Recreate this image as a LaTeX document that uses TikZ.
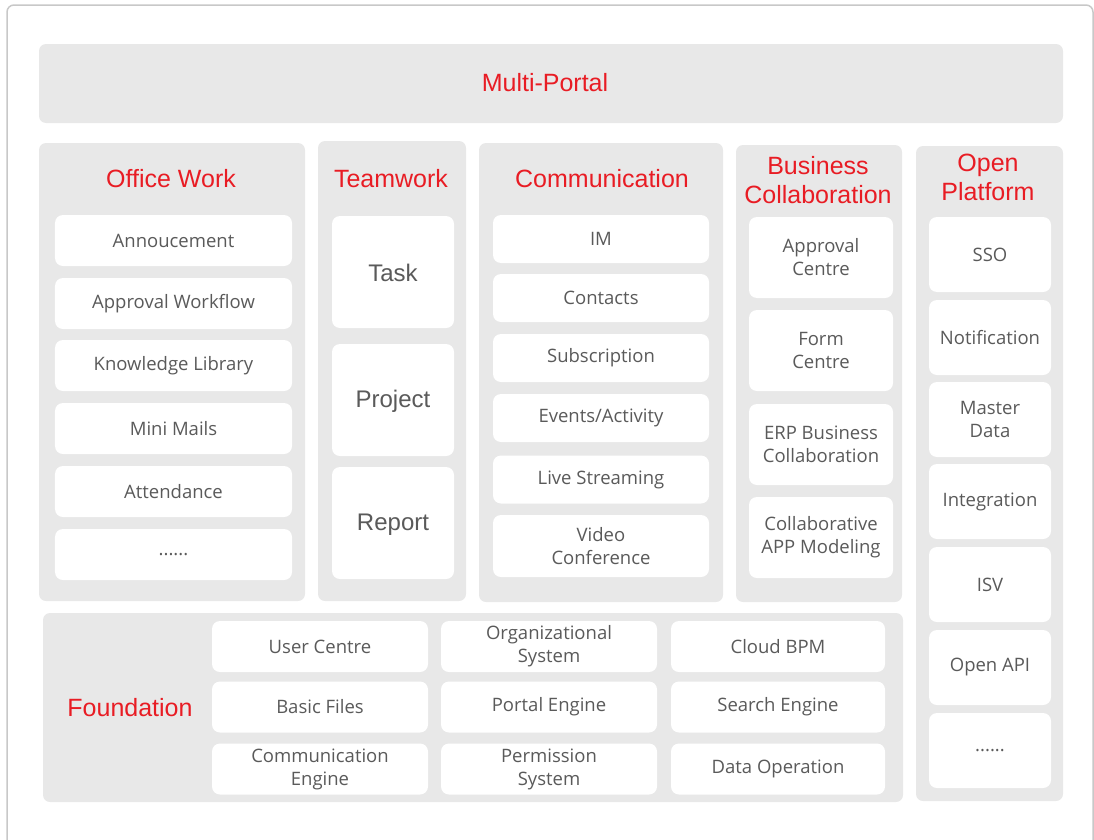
\documentclass[tikz,border=0pt]{standalone}
\usepackage{fontspec}
\setmainfont{Open Sans}
\newfontfamily\arialfont{Liberation Sans}
\usepackage{tikz}
\usetikzlibrary{positioning}

\definecolor{panelgray}{RGB}{232,232,232}
\definecolor{titlered}{RGB}{232,28,36}
\definecolor{textgray}{RGB}{90,90,90}
\definecolor{framegray}{RGB}{200,200,200}

\newcommand\itemfont{\fontsize{18.5bp}{23bp}\selectfont}
\newcommand\bigfont{\arialfont\fontsize{24bp}{28bp}\selectfont}
\newcommand\headfont{\arialfont\fontsize{25bp}{29bp}\selectfont}

\tikzset{
  panel/.style={fill=panelgray, rounded corners=7bp},
  item/.style={fill=white, rounded corners=8bp, inner sep=0pt, align=center, text=textgray, font=\itemfont},
  heading/.style={inner sep=0pt, align=center, text=titlered, font=\headfont},
  owitem/.style={item, minimum width=237bp, minimum height=51bp},
  twitem/.style={item, minimum width=122bp, minimum height=112bp, font=\bigfont},
  cmitem/.style={item, minimum width=216bp, minimum height=48bp},
  bcitem/.style={item, minimum width=144bp, minimum height=81bp},
  opitem/.style={item, minimum width=122bp, minimum height=75bp},
  fditem/.style={item, minimum width=216bp, minimum height=51bp},
}

\begin{document}
\begin{tikzpicture}[x=1bp,y=-1bp,line join=bevel]
  \useasboundingbox (0,0) rectangle (1094,840);
  \pgfsetlinewidth{1.5bp}
%%
  % Frame
  \draw [framegray, rounded corners=7bp] (7,845) -- (7,5) -- (1093,5) -- (1093,845);
  % Panels
  \fill [panel] (39,44) rectangle (1063,123);
  \fill [panel] (39,143) rectangle (305,601);
  \fill [panel] (318,141) rectangle (466,601);
  \fill [panel] (479,143) rectangle (723,602);
  \fill [panel] (736,145) rectangle (902,602);
  \fill [panel] (916,146) rectangle (1063,801);
  \fill [panel] (43,613) rectangle (903,802);

  % Node: portal
  \node [heading] (portal) at (545,83) {Multi-Portal};

  % Node: office
  \node [heading] (office) at (171,179) {Office Work};
  \node [owitem] (annc) at (173.5,240.5) {Annoucement};
  \node [owitem] (apwf) at (173.5,303.5) {Approval Workflow};
  \node [owitem] (klib) at (173.5,365.5) {Knowledge Library};
  \node [owitem] (mail) at (173.5,428.5) {Mini Mails};
  \node [owitem] (attd) at (173.5,491.5) {Attendance};
  \node [owitem] (owmore) at (173.5,554.5) {......};

  % Node: team
  \node [heading] (team) at (391,179) {Teamwork};
  \node [twitem, text height=20bp] (task) at (393,272) {Task};
  \node [twitem, text height=20bp] (proj) at (393,400) {Project};
  \node [twitem, text height=20bp] (rprt) at (393,523) {Report};

  % Node: comm
  \node [heading] (comm) at (602,179) {Communication};
  \node [cmitem] (im) at (601,239) {IM};
  \node [cmitem] (cont) at (601,298) {Contacts};
  \node [cmitem] (subs) at (601,358) {Subscription};
  \node [cmitem] (evnt) at (601,418) {Events/Activity};
  \node [cmitem] (live) at (601,479.5) {Live Streaming};
  \node [cmitem, minimum height=62bp] (video) at (601,546) {Video\\Conference};

  % Node: busi
  \node [heading] (busi) at (818,180) {Business\\Collaboration};
  \node [bcitem] (apcn) at (821,257.5) {Approval\\Centre};
  \node [bcitem] (form) at (821,350.5) {Form\\Centre};
  \node [bcitem] (erp) at (821,444.5) {ERP Business\\Collaboration};
  \node [bcitem] (appm) at (821,537.5) {Collaborative\\APP Modeling};

  % Node: open
  \node [heading] (open) at (988,177) {Open\\Platform};
  \node [opitem] (sso) at (990,254.5) {SSO};
  \node [opitem] (noti) at (990,337.5) {Notification};
  \node [opitem] (mdat) at (990,419.5) {Master\\Data};
  \node [opitem] (intg) at (990,501.5) {Integration};
  \node [opitem] (isv) at (990,584.5) {ISV};
  \node [opitem] (oapi) at (990,667.5) {Open API};
  \node [opitem] (opmore) at (990,750.5) {......};

  % Node: found
  \node [heading] (found) at (130,708) {Foundation};
  \node [fditem] (user) at (320,646.5) {User Centre};
  \node [fditem] (file) at (320,707) {Basic Files};
  \node [fditem] (cmen) at (320,769) {Communication\\Engine};
  \node [fditem] (orgs) at (549,646.5) {Organizational\\System};
  \node [fditem] (port) at (549,707) {Portal Engine};
  \node [fditem] (perm) at (549,769) {Permission\\System};
  \node [fditem, minimum width=214bp] (bpm) at (778,646.5) {Cloud BPM};
  \node [fditem, minimum width=214bp] (srch) at (778,707) {Search Engine};
  \node [fditem, minimum width=214bp] (dop) at (778,769) {Data Operation};
%
\end{tikzpicture}
\end{document}
